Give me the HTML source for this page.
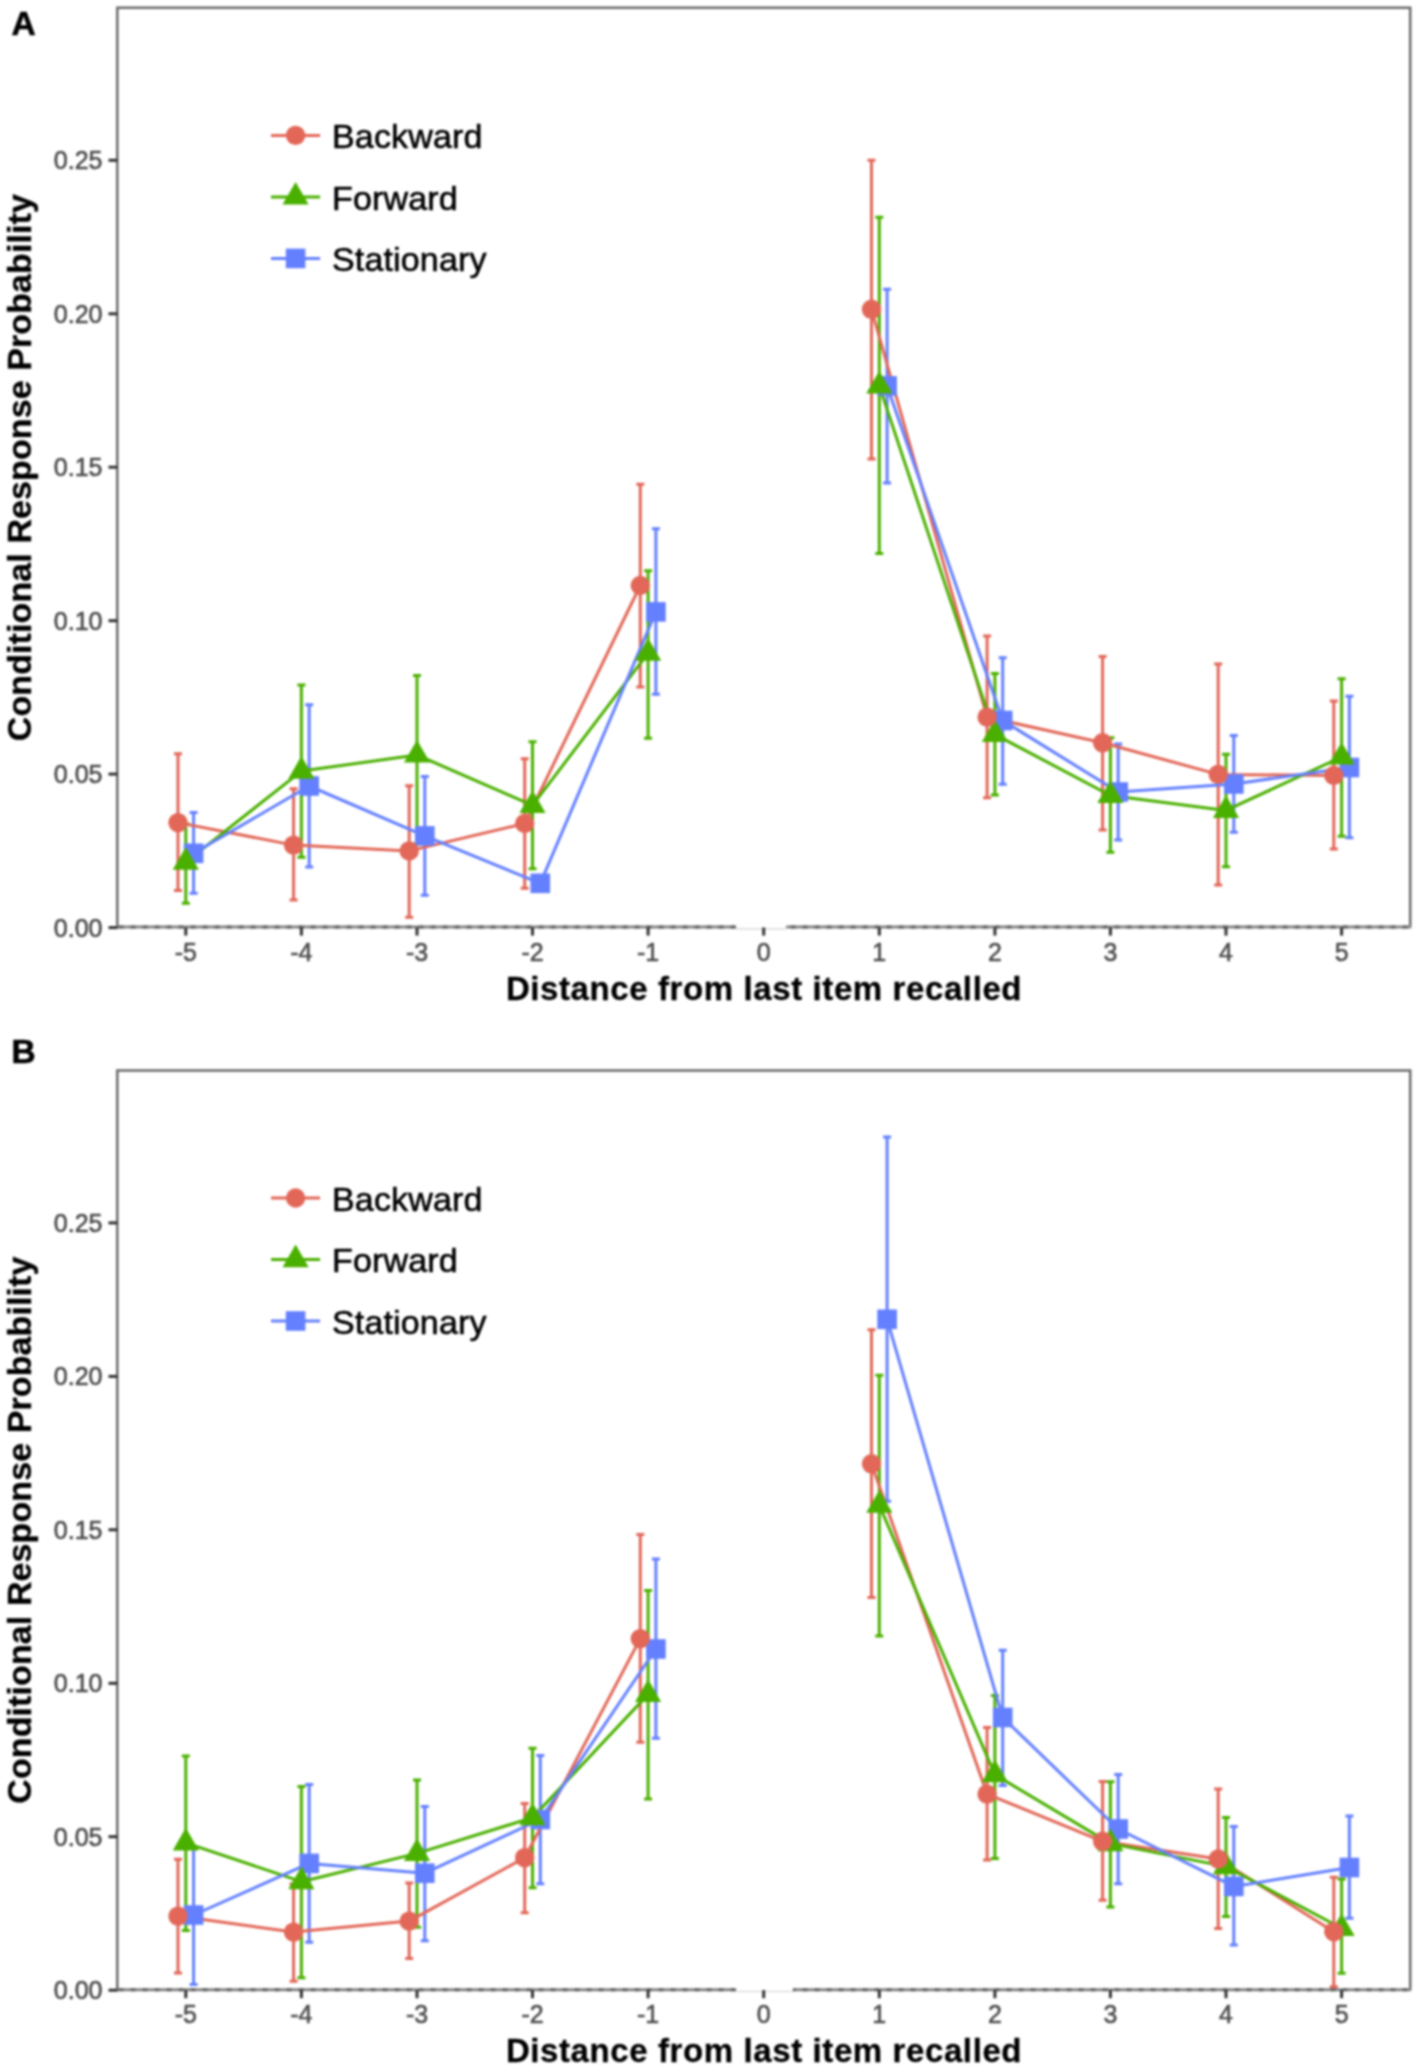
<!DOCTYPE html>
<html><head><meta charset="utf-8"><title>CRP</title>
<style>
html,body{margin:0;padding:0;background:#fff;}
body{width:1417px;height:2071px;overflow:hidden;}
svg{display:block;filter:blur(0.8px);}
text{font-family:"Liberation Sans",sans-serif;}
.tk{font-size:25px;fill:#4d4d4d;stroke:#4d4d4d;stroke-width:0.6px;}
.ttl{font-size:33px;font-weight:bold;fill:#000;stroke:#000;stroke-width:0.3px;letter-spacing:0.6px;}
.ttly{font-size:34px;font-weight:bold;fill:#000;stroke:#000;stroke-width:0.3px;letter-spacing:0.1px;}
.lg{font-size:34px;fill:#000;stroke:#000;stroke-width:0.6px;letter-spacing:0.15px;}
.pl{font-size:33.5px;font-weight:bold;fill:#000;stroke:#000;stroke-width:0.6px;}
</style></head>
<body>
<svg width="1417" height="2071" viewBox="0 0 1417 2071">
<path d="M117.3 927.1V7.8H1410.2V927.1" fill="none" stroke="#6a6a6a" stroke-width="2.5"/>
<path d="M116.3 927.1H736.1M786.1 927.1H1411.2" stroke="#858585" stroke-width="3"/>
<path d="M116.3 927.1H736.1" stroke="#646464" stroke-width="3" stroke-dasharray="5 7" stroke-dashoffset="9.7"/>
<path d="M786.1 927.1H1411.2" stroke="#646464" stroke-width="3" stroke-dasharray="5 7" stroke-dashoffset="7.5"/>
<path d="M736.1 928.9H786.1" stroke="#d0d0d0" stroke-width="1.2"/>
<path d="M108.5 927.6H117.5" stroke="#333" stroke-width="3"/>
<text x="102.5" y="936.6" text-anchor="end" class="tk">0.00</text>
<path d="M108.5 774.1H117.5" stroke="#333" stroke-width="3"/>
<text x="102.5" y="783.1" text-anchor="end" class="tk">0.05</text>
<path d="M108.5 620.7H117.5" stroke="#333" stroke-width="3"/>
<text x="102.5" y="629.7" text-anchor="end" class="tk">0.10</text>
<path d="M108.5 467.2H117.5" stroke="#333" stroke-width="3"/>
<text x="102.5" y="476.2" text-anchor="end" class="tk">0.15</text>
<path d="M108.5 313.8H117.5" stroke="#333" stroke-width="3"/>
<text x="102.5" y="322.8" text-anchor="end" class="tk">0.20</text>
<path d="M108.5 160.3H117.5" stroke="#333" stroke-width="3"/>
<text x="102.5" y="169.3" text-anchor="end" class="tk">0.25</text>
<path d="M185.8 927.5V935.6" stroke="#333" stroke-width="3"/>
<text x="185.8" y="960.5" text-anchor="middle" class="tk">-5</text>
<path d="M301.4 927.5V935.6" stroke="#333" stroke-width="3"/>
<text x="301.4" y="960.5" text-anchor="middle" class="tk">-4</text>
<path d="M417 927.5V935.6" stroke="#333" stroke-width="3"/>
<text x="417" y="960.5" text-anchor="middle" class="tk">-3</text>
<path d="M532.5 927.5V935.6" stroke="#333" stroke-width="3"/>
<text x="532.5" y="960.5" text-anchor="middle" class="tk">-2</text>
<path d="M648.1 927.5V935.6" stroke="#333" stroke-width="3"/>
<text x="648.1" y="960.5" text-anchor="middle" class="tk">-1</text>
<path d="M763.7 927.5V935.6" stroke="#333" stroke-width="3"/>
<text x="763.7" y="960.5" text-anchor="middle" class="tk">0</text>
<path d="M879.3 927.5V935.6" stroke="#333" stroke-width="3"/>
<text x="879.3" y="960.5" text-anchor="middle" class="tk">1</text>
<path d="M994.9 927.5V935.6" stroke="#333" stroke-width="3"/>
<text x="994.9" y="960.5" text-anchor="middle" class="tk">2</text>
<path d="M1110.4 927.5V935.6" stroke="#333" stroke-width="3"/>
<text x="1110.4" y="960.5" text-anchor="middle" class="tk">3</text>
<path d="M1226 927.5V935.6" stroke="#333" stroke-width="3"/>
<text x="1226" y="960.5" text-anchor="middle" class="tk">4</text>
<path d="M1341.6 927.5V935.6" stroke="#333" stroke-width="3"/>
<text x="1341.6" y="960.5" text-anchor="middle" class="tk">5</text>
<text x="764.0" y="999.8" text-anchor="middle" class="ttl">Distance from last item recalled</text>
<text transform="translate(31.4 467.6) rotate(-90)" x="0" y="0" text-anchor="middle" class="ttly">Conditional Response Probability</text>
<path d="M174 753.8H182M178 753.8V890.5M174 890.5H182" stroke="#E26758" stroke-width="3.0" fill="none"/>
<path d="M289.6 788.8H297.6M293.6 788.8V900.1M289.6 900.1H297.6" stroke="#E26758" stroke-width="3.0" fill="none"/>
<path d="M405.2 785.7H413.2M409.2 785.7V917.3M405.2 917.3H413.2" stroke="#E26758" stroke-width="3.0" fill="none"/>
<path d="M520.7 758.7H528.7M524.7 758.7V888.3M520.7 888.3H528.7" stroke="#E26758" stroke-width="3.0" fill="none"/>
<path d="M636.3 484.2H644.3M640.3 484.2V686.9M636.3 686.9H644.3" stroke="#E26758" stroke-width="3.0" fill="none"/>
<path d="M867.5 160.2H875.5M871.5 160.2V459M867.5 459H875.5" stroke="#E26758" stroke-width="3.0" fill="none"/>
<path d="M983.1 635.9H991.1M987.1 635.9V797.8M983.1 797.8H991.1" stroke="#E26758" stroke-width="3.0" fill="none"/>
<path d="M1098.6 656.4H1106.6M1102.6 656.4V830M1098.6 830H1106.6" stroke="#E26758" stroke-width="3.0" fill="none"/>
<path d="M1214.2 663.9H1222.2M1218.2 663.9V884.9M1214.2 884.9H1222.2" stroke="#E26758" stroke-width="3.0" fill="none"/>
<path d="M1329.8 701.1H1337.8M1333.8 701.1V848.9M1329.8 848.9H1337.8" stroke="#E26758" stroke-width="3.0" fill="none"/>
<path d="M181.8 824H189.8M185.8 824V903.3M181.8 903.3H189.8" stroke="#4AB000" stroke-width="3.0" fill="none"/>
<path d="M297.4 685.1H305.4M301.4 685.1V857.2M297.4 857.2H305.4" stroke="#4AB000" stroke-width="3.0" fill="none"/>
<path d="M413 675.6H421M417 675.6V844M413 844H421" stroke="#4AB000" stroke-width="3.0" fill="none"/>
<path d="M528.5 741.7H536.5M532.5 741.7V868.7M528.5 868.7H536.5" stroke="#4AB000" stroke-width="3.0" fill="none"/>
<path d="M644.1 570.7H652.1M648.1 570.7V738.2M644.1 738.2H652.1" stroke="#4AB000" stroke-width="3.0" fill="none"/>
<path d="M875.3 217.3H883.3M879.3 217.3V553.5M875.3 553.5H883.3" stroke="#4AB000" stroke-width="3.0" fill="none"/>
<path d="M990.9 673.6H998.9M994.9 673.6V794.9M990.9 794.9H998.9" stroke="#4AB000" stroke-width="3.0" fill="none"/>
<path d="M1106.4 737.8H1114.4M1110.4 737.8V852.2M1106.4 852.2H1114.4" stroke="#4AB000" stroke-width="3.0" fill="none"/>
<path d="M1222 754.3H1230M1226 754.3V866.7M1222 866.7H1230" stroke="#4AB000" stroke-width="3.0" fill="none"/>
<path d="M1337.6 678.8H1345.6M1341.6 678.8V836.3M1337.6 836.3H1345.6" stroke="#4AB000" stroke-width="3.0" fill="none"/>
<path d="M189.6 812.5H197.6M193.6 812.5V893.2M189.6 893.2H197.6" stroke="#6480FF" stroke-width="3.0" fill="none"/>
<path d="M305.2 704.8H313.2M309.2 704.8V867.1M305.2 867.1H313.2" stroke="#6480FF" stroke-width="3.0" fill="none"/>
<path d="M420.8 776.6H428.8M424.8 776.6V895.2M420.8 895.2H428.8" stroke="#6480FF" stroke-width="3.0" fill="none"/>
<path d="M536.3 880H544.3M540.3 880V886M536.3 886H544.3" stroke="#6480FF" stroke-width="3.0" fill="none"/>
<path d="M651.9 528.8H659.9M655.9 528.8V694.3M651.9 694.3H659.9" stroke="#6480FF" stroke-width="3.0" fill="none"/>
<path d="M883.1 289.2H891.1M887.1 289.2V482.9M883.1 482.9H891.1" stroke="#6480FF" stroke-width="3.0" fill="none"/>
<path d="M998.7 657.7H1006.7M1002.7 657.7V784.3M998.7 784.3H1006.7" stroke="#6480FF" stroke-width="3.0" fill="none"/>
<path d="M1114.2 743.9H1122.2M1118.2 743.9V840M1114.2 840H1122.2" stroke="#6480FF" stroke-width="3.0" fill="none"/>
<path d="M1229.8 735.4H1237.8M1233.8 735.4V832.2M1229.8 832.2H1237.8" stroke="#6480FF" stroke-width="3.0" fill="none"/>
<path d="M1345.4 696.2H1353.4M1349.4 696.2V837.8M1345.4 837.8H1353.4" stroke="#6480FF" stroke-width="3.0" fill="none"/>
<path d="M178 822.6L293.6 845.1L409.2 850.9L524.7 823.5L640.3 585.5M871.5 309.3L987.1 717.1L1102.6 742.8L1218.2 774.4L1333.8 775.5" stroke="#E26758" stroke-width="3.0" fill="none" stroke-linejoin="round"/>
<path d="M185.8 862.1L301.4 771.1L417 755L532.5 805.3L648.1 653.2M879.3 385.9L994.9 734.4L1110.4 795.5L1226 810.4L1341.6 757" stroke="#4AB000" stroke-width="3.0" fill="none" stroke-linejoin="round"/>
<path d="M193.6 853.3L309.2 786L424.8 835.9L540.3 883.3L655.9 611.9M887.1 385.9L1002.7 720.5L1118.2 792L1233.8 784L1349.4 767.5" stroke="#6480FF" stroke-width="3.0" fill="none" stroke-linejoin="round"/>
<rect x="183.8" y="843.5" width="19.6" height="19.6" fill="#6480FF"/>
<rect x="299.4" y="776.2" width="19.6" height="19.6" fill="#6480FF"/>
<rect x="415" y="826.1" width="19.6" height="19.6" fill="#6480FF"/>
<rect x="530.5" y="873.5" width="19.6" height="19.6" fill="#6480FF"/>
<rect x="646.1" y="602.1" width="19.6" height="19.6" fill="#6480FF"/>
<rect x="877.3" y="376.1" width="19.6" height="19.6" fill="#6480FF"/>
<rect x="992.9" y="710.7" width="19.6" height="19.6" fill="#6480FF"/>
<rect x="1108.4" y="782.2" width="19.6" height="19.6" fill="#6480FF"/>
<rect x="1224" y="774.2" width="19.6" height="19.6" fill="#6480FF"/>
<rect x="1339.6" y="757.7" width="19.6" height="19.6" fill="#6480FF"/>
<path d="M185.8 847L198.9 869.7L172.7 869.7Z" fill="#4AB000"/>
<path d="M301.4 756L314.5 778.7L288.3 778.7Z" fill="#4AB000"/>
<path d="M417 739.9L430.1 762.6L403.9 762.6Z" fill="#4AB000"/>
<path d="M532.5 790.2L545.6 812.9L519.4 812.9Z" fill="#4AB000"/>
<path d="M648.1 638.1L661.2 660.8L635 660.8Z" fill="#4AB000"/>
<path d="M879.3 370.8L892.4 393.5L866.2 393.5Z" fill="#4AB000"/>
<path d="M994.9 719.3L1008 742L981.8 742Z" fill="#4AB000"/>
<path d="M1110.4 780.4L1123.5 803.1L1097.3 803.1Z" fill="#4AB000"/>
<path d="M1226 795.3L1239.1 818L1212.9 818Z" fill="#4AB000"/>
<path d="M1341.6 741.9L1354.7 764.6L1328.5 764.6Z" fill="#4AB000"/>
<circle cx="178" cy="822.6" r="9.7" fill="#E26758"/>
<circle cx="293.6" cy="845.1" r="9.7" fill="#E26758"/>
<circle cx="409.2" cy="850.9" r="9.7" fill="#E26758"/>
<circle cx="524.7" cy="823.5" r="9.7" fill="#E26758"/>
<circle cx="640.3" cy="585.5" r="9.7" fill="#E26758"/>
<circle cx="871.5" cy="309.3" r="9.7" fill="#E26758"/>
<circle cx="987.1" cy="717.1" r="9.7" fill="#E26758"/>
<circle cx="1102.6" cy="742.8" r="9.7" fill="#E26758"/>
<circle cx="1218.2" cy="774.4" r="9.7" fill="#E26758"/>
<circle cx="1333.8" cy="775.5" r="9.7" fill="#E26758"/>
<path d="M271 135.4H320.1" stroke="#E26758" stroke-width="3.0"/>
<circle cx="295.6" cy="135.4" r="9.7" fill="#E26758"/>
<text x="332" y="148.1" class="lg">Backward</text>
<path d="M271 197H320.1" stroke="#4AB000" stroke-width="3.0"/>
<path d="M295.6 181.9L308.7 204.6L282.5 204.6Z" fill="#4AB000"/>
<text x="332" y="209.7" class="lg">Forward</text>
<path d="M271 258.4H320.1" stroke="#6480FF" stroke-width="3.0"/>
<rect x="285.8" y="248.6" width="19.6" height="19.6" fill="#6480FF"/>
<text x="332" y="271.1" class="lg">Stationary</text>
<path d="M117.3 1989.7V1070.4H1410.2V1989.7" fill="none" stroke="#6a6a6a" stroke-width="2.5"/>
<path d="M116.3 1989.7H736.1M792.9 1989.7H1411.2" stroke="#858585" stroke-width="3"/>
<path d="M116.3 1989.7H736.1" stroke="#646464" stroke-width="3" stroke-dasharray="5 7" stroke-dashoffset="9.7"/>
<path d="M792.9 1989.7H1411.2" stroke="#646464" stroke-width="3" stroke-dasharray="5 7" stroke-dashoffset="2.3"/>
<path d="M736.1 1991.5H792.9" stroke="#d0d0d0" stroke-width="1.2"/>
<path d="M108.5 1990.2H117.5" stroke="#333" stroke-width="3"/>
<text x="102.5" y="1999.2" text-anchor="end" class="tk">0.00</text>
<path d="M108.5 1836.7H117.5" stroke="#333" stroke-width="3"/>
<text x="102.5" y="1845.7" text-anchor="end" class="tk">0.05</text>
<path d="M108.5 1683.3H117.5" stroke="#333" stroke-width="3"/>
<text x="102.5" y="1692.3" text-anchor="end" class="tk">0.10</text>
<path d="M108.5 1529.8H117.5" stroke="#333" stroke-width="3"/>
<text x="102.5" y="1538.8" text-anchor="end" class="tk">0.15</text>
<path d="M108.5 1376.4H117.5" stroke="#333" stroke-width="3"/>
<text x="102.5" y="1385.4" text-anchor="end" class="tk">0.20</text>
<path d="M108.5 1222.9H117.5" stroke="#333" stroke-width="3"/>
<text x="102.5" y="1231.9" text-anchor="end" class="tk">0.25</text>
<path d="M185.8 1990.1V1998.2" stroke="#333" stroke-width="3"/>
<text x="185.8" y="2023.1" text-anchor="middle" class="tk">-5</text>
<path d="M301.4 1990.1V1998.2" stroke="#333" stroke-width="3"/>
<text x="301.4" y="2023.1" text-anchor="middle" class="tk">-4</text>
<path d="M417 1990.1V1998.2" stroke="#333" stroke-width="3"/>
<text x="417" y="2023.1" text-anchor="middle" class="tk">-3</text>
<path d="M532.5 1990.1V1998.2" stroke="#333" stroke-width="3"/>
<text x="532.5" y="2023.1" text-anchor="middle" class="tk">-2</text>
<path d="M648.1 1990.1V1998.2" stroke="#333" stroke-width="3"/>
<text x="648.1" y="2023.1" text-anchor="middle" class="tk">-1</text>
<path d="M763.7 1990.1V1998.2" stroke="#333" stroke-width="3"/>
<text x="763.7" y="2023.1" text-anchor="middle" class="tk">0</text>
<path d="M879.3 1990.1V1998.2" stroke="#333" stroke-width="3"/>
<text x="879.3" y="2023.1" text-anchor="middle" class="tk">1</text>
<path d="M994.9 1990.1V1998.2" stroke="#333" stroke-width="3"/>
<text x="994.9" y="2023.1" text-anchor="middle" class="tk">2</text>
<path d="M1110.4 1990.1V1998.2" stroke="#333" stroke-width="3"/>
<text x="1110.4" y="2023.1" text-anchor="middle" class="tk">3</text>
<path d="M1226 1990.1V1998.2" stroke="#333" stroke-width="3"/>
<text x="1226" y="2023.1" text-anchor="middle" class="tk">4</text>
<path d="M1341.6 1990.1V1998.2" stroke="#333" stroke-width="3"/>
<text x="1341.6" y="2023.1" text-anchor="middle" class="tk">5</text>
<text x="764.0" y="2062.4" text-anchor="middle" class="ttl">Distance from last item recalled</text>
<text transform="translate(31.4 1530.1) rotate(-90)" x="0" y="0" text-anchor="middle" class="ttly">Conditional Response Probability</text>
<path d="M174 1859.2H182M178 1859.2V1972.9M174 1972.9H182" stroke="#E26758" stroke-width="3.0" fill="none"/>
<path d="M289.6 1884H297.6M293.6 1884V1981.3M289.6 1981.3H297.6" stroke="#E26758" stroke-width="3.0" fill="none"/>
<path d="M405.2 1883.1H413.2M409.2 1883.1V1958.6M405.2 1958.6H413.2" stroke="#E26758" stroke-width="3.0" fill="none"/>
<path d="M520.7 1803.6H528.7M524.7 1803.6V1912.8M520.7 1912.8H528.7" stroke="#E26758" stroke-width="3.0" fill="none"/>
<path d="M636.3 1534.6H644.3M640.3 1534.6V1742.3M636.3 1742.3H644.3" stroke="#E26758" stroke-width="3.0" fill="none"/>
<path d="M867.5 1329.7H875.5M871.5 1329.7V1597.6M867.5 1597.6H875.5" stroke="#E26758" stroke-width="3.0" fill="none"/>
<path d="M983.1 1727.4H991.1M987.1 1727.4V1860.1M983.1 1860.1H991.1" stroke="#E26758" stroke-width="3.0" fill="none"/>
<path d="M1098.6 1781.4H1106.6M1102.6 1781.4V1900.2M1098.6 1900.2H1106.6" stroke="#E26758" stroke-width="3.0" fill="none"/>
<path d="M1214.2 1788.9H1222.2M1218.2 1788.9V1928.6M1214.2 1928.6H1222.2" stroke="#E26758" stroke-width="3.0" fill="none"/>
<path d="M1329.8 1877.2H1337.8M1333.8 1877.2V1986.7M1329.8 1986.7H1337.8" stroke="#E26758" stroke-width="3.0" fill="none"/>
<path d="M181.8 1756H189.8M185.8 1756V1930.4M181.8 1930.4H189.8" stroke="#4AB000" stroke-width="3.0" fill="none"/>
<path d="M297.4 1786.6H305.4M301.4 1786.6V1977.7M297.4 1977.7H305.4" stroke="#4AB000" stroke-width="3.0" fill="none"/>
<path d="M413 1780.1H421M417 1780.1V1927.2M413 1927.2H421" stroke="#4AB000" stroke-width="3.0" fill="none"/>
<path d="M528.5 1748.2H536.5M532.5 1748.2V1887.7M528.5 1887.7H536.5" stroke="#4AB000" stroke-width="3.0" fill="none"/>
<path d="M644.1 1590.4H652.1M648.1 1590.4V1799M644.1 1799H652.1" stroke="#4AB000" stroke-width="3.0" fill="none"/>
<path d="M875.3 1375.2H883.3M879.3 1375.2V1636.1M875.3 1636.1H883.3" stroke="#4AB000" stroke-width="3.0" fill="none"/>
<path d="M990.9 1695.5H998.9M994.9 1695.5V1858.4M990.9 1858.4H998.9" stroke="#4AB000" stroke-width="3.0" fill="none"/>
<path d="M1106.4 1781.8H1114.4M1110.4 1781.8V1907M1106.4 1907H1114.4" stroke="#4AB000" stroke-width="3.0" fill="none"/>
<path d="M1222 1817.6H1230M1226 1817.6V1916.4M1222 1916.4H1230" stroke="#4AB000" stroke-width="3.0" fill="none"/>
<path d="M1337.6 1878.9H1345.6M1341.6 1878.9V1973.3M1337.6 1973.3H1345.6" stroke="#4AB000" stroke-width="3.0" fill="none"/>
<path d="M189.6 1848H197.6M193.6 1848V1984.6M189.6 1984.6H197.6" stroke="#6480FF" stroke-width="3.0" fill="none"/>
<path d="M305.2 1784.6H313.2M309.2 1784.6V1942.2M305.2 1942.2H313.2" stroke="#6480FF" stroke-width="3.0" fill="none"/>
<path d="M420.8 1806.5H428.8M424.8 1806.5V1940.8M420.8 1940.8H428.8" stroke="#6480FF" stroke-width="3.0" fill="none"/>
<path d="M536.3 1755.6H544.3M540.3 1755.6V1883.8M536.3 1883.8H544.3" stroke="#6480FF" stroke-width="3.0" fill="none"/>
<path d="M651.9 1559.1H659.9M655.9 1559.1V1738.3M651.9 1738.3H659.9" stroke="#6480FF" stroke-width="3.0" fill="none"/>
<path d="M883.1 1136.9H891.1M887.1 1136.9V1501.3M883.1 1501.3H891.1" stroke="#6480FF" stroke-width="3.0" fill="none"/>
<path d="M998.7 1650.3H1006.7M1002.7 1650.3V1785.4M998.7 1785.4H1006.7" stroke="#6480FF" stroke-width="3.0" fill="none"/>
<path d="M1114.2 1774.6H1122.2M1118.2 1774.6V1883.8M1114.2 1883.8H1122.2" stroke="#6480FF" stroke-width="3.0" fill="none"/>
<path d="M1229.8 1826.6H1237.8M1233.8 1826.6V1945M1229.8 1945H1237.8" stroke="#6480FF" stroke-width="3.0" fill="none"/>
<path d="M1345.4 1816.1H1353.4M1349.4 1816.1V1918.3M1345.4 1918.3H1353.4" stroke="#6480FF" stroke-width="3.0" fill="none"/>
<path d="M178 1916.1L293.6 1932.1L409.2 1921.1L524.7 1857.7L640.3 1638.6M871.5 1463.8L987.1 1794.1L1102.6 1841.3L1218.2 1859L1333.8 1931.7" stroke="#E26758" stroke-width="3.0" fill="none" stroke-linejoin="round"/>
<path d="M185.8 1842.8L301.4 1881.7L417 1853.4L532.5 1817.6L648.1 1694.4M879.3 1505.2L994.9 1774.6L1110.4 1843.6L1226 1866.6L1341.6 1928.3" stroke="#4AB000" stroke-width="3.0" fill="none" stroke-linejoin="round"/>
<path d="M193.6 1915L309.2 1863.4L424.8 1873.2L540.3 1819.5L655.9 1649M887.1 1319.3L1002.7 1717.5L1118.2 1829L1233.8 1886.4L1349.4 1867.5" stroke="#6480FF" stroke-width="3.0" fill="none" stroke-linejoin="round"/>
<rect x="183.8" y="1905.2" width="19.6" height="19.6" fill="#6480FF"/>
<rect x="299.4" y="1853.6" width="19.6" height="19.6" fill="#6480FF"/>
<rect x="415" y="1863.4" width="19.6" height="19.6" fill="#6480FF"/>
<rect x="530.5" y="1809.7" width="19.6" height="19.6" fill="#6480FF"/>
<rect x="646.1" y="1639.2" width="19.6" height="19.6" fill="#6480FF"/>
<rect x="877.3" y="1309.5" width="19.6" height="19.6" fill="#6480FF"/>
<rect x="992.9" y="1707.7" width="19.6" height="19.6" fill="#6480FF"/>
<rect x="1108.4" y="1819.2" width="19.6" height="19.6" fill="#6480FF"/>
<rect x="1224" y="1876.6" width="19.6" height="19.6" fill="#6480FF"/>
<rect x="1339.6" y="1857.7" width="19.6" height="19.6" fill="#6480FF"/>
<path d="M185.8 1827.7L198.9 1850.4L172.7 1850.4Z" fill="#4AB000"/>
<path d="M301.4 1866.6L314.5 1889.3L288.3 1889.3Z" fill="#4AB000"/>
<path d="M417 1838.3L430.1 1861L403.9 1861Z" fill="#4AB000"/>
<path d="M532.5 1802.5L545.6 1825.2L519.4 1825.2Z" fill="#4AB000"/>
<path d="M648.1 1679.3L661.2 1702L635 1702Z" fill="#4AB000"/>
<path d="M879.3 1490.1L892.4 1512.8L866.2 1512.8Z" fill="#4AB000"/>
<path d="M994.9 1759.5L1008 1782.2L981.8 1782.2Z" fill="#4AB000"/>
<path d="M1110.4 1828.5L1123.5 1851.2L1097.3 1851.2Z" fill="#4AB000"/>
<path d="M1226 1851.5L1239.1 1874.2L1212.9 1874.2Z" fill="#4AB000"/>
<path d="M1341.6 1913.2L1354.7 1935.9L1328.5 1935.9Z" fill="#4AB000"/>
<circle cx="178" cy="1916.1" r="9.7" fill="#E26758"/>
<circle cx="293.6" cy="1932.1" r="9.7" fill="#E26758"/>
<circle cx="409.2" cy="1921.1" r="9.7" fill="#E26758"/>
<circle cx="524.7" cy="1857.7" r="9.7" fill="#E26758"/>
<circle cx="640.3" cy="1638.6" r="9.7" fill="#E26758"/>
<circle cx="871.5" cy="1463.8" r="9.7" fill="#E26758"/>
<circle cx="987.1" cy="1794.1" r="9.7" fill="#E26758"/>
<circle cx="1102.6" cy="1841.3" r="9.7" fill="#E26758"/>
<circle cx="1218.2" cy="1859" r="9.7" fill="#E26758"/>
<circle cx="1333.8" cy="1931.7" r="9.7" fill="#E26758"/>
<path d="M271 1198H320.1" stroke="#E26758" stroke-width="3.0"/>
<circle cx="295.6" cy="1198" r="9.7" fill="#E26758"/>
<text x="332" y="1210.7" class="lg">Backward</text>
<path d="M271 1259.6H320.1" stroke="#4AB000" stroke-width="3.0"/>
<path d="M295.6 1244.5L308.7 1267.2L282.5 1267.2Z" fill="#4AB000"/>
<text x="332" y="1272.3" class="lg">Forward</text>
<path d="M271 1321H320.1" stroke="#6480FF" stroke-width="3.0"/>
<rect x="285.8" y="1311.2" width="19.6" height="19.6" fill="#6480FF"/>
<text x="332" y="1333.7" class="lg">Stationary</text>
<text x="11.6" y="35.2" class="pl">A</text>
<text x="11.6" y="1063.3" class="pl">B</text>
</svg>
</body></html>
